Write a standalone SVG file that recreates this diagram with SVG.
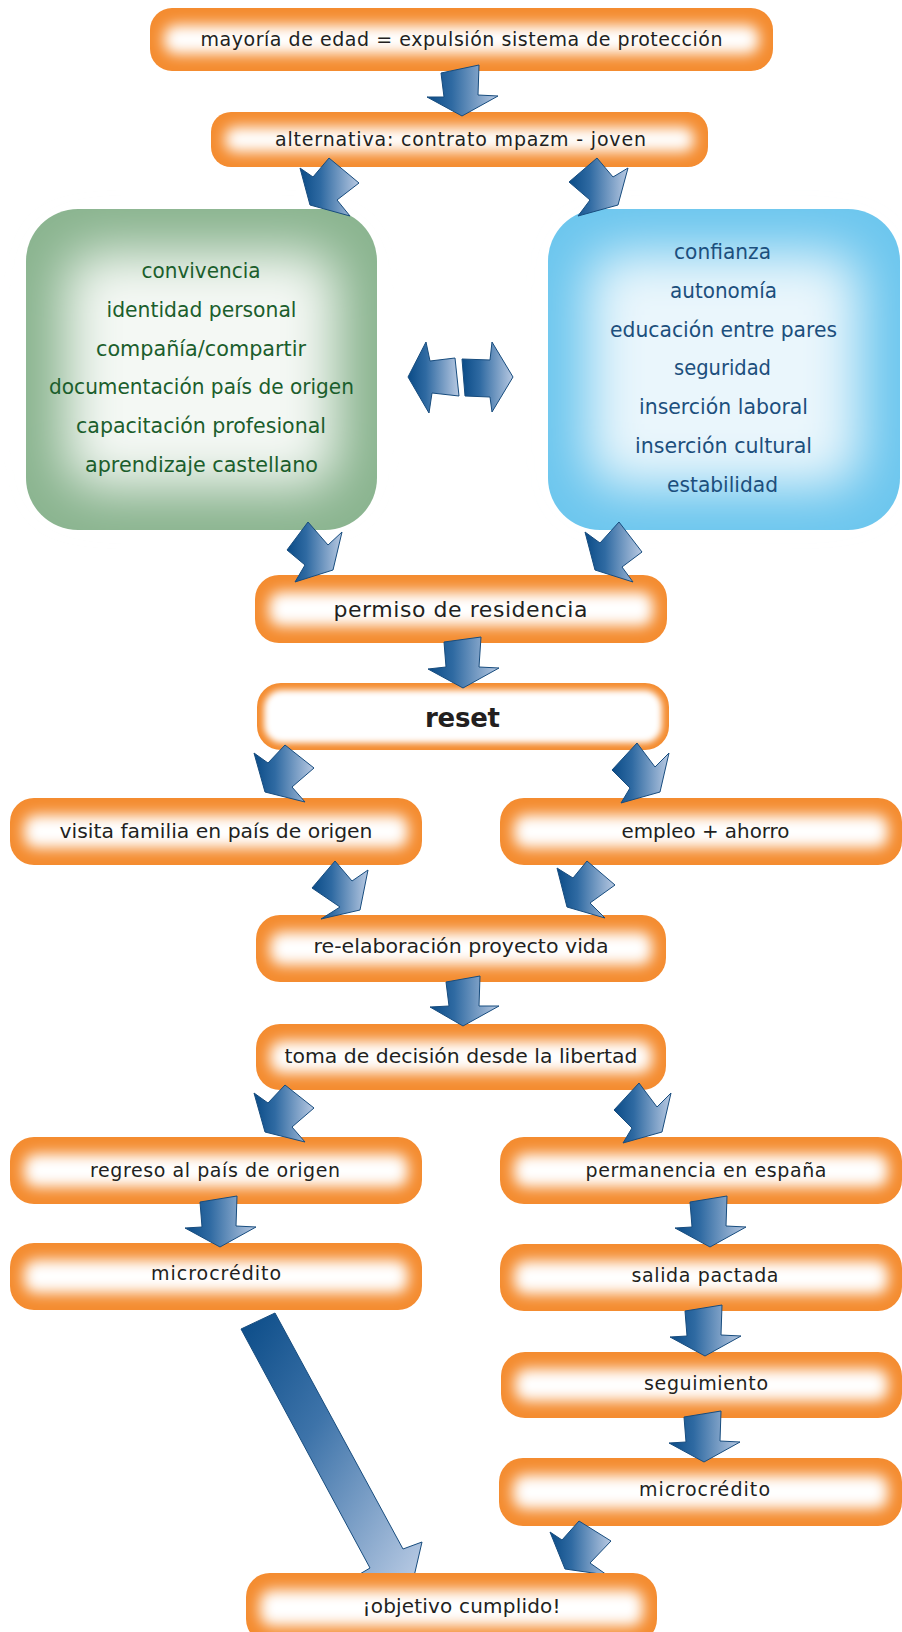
<svg xmlns="http://www.w3.org/2000/svg" width="902" height="1632" viewBox="0 0 902 1632">
<defs>
<style>
.box{fill:#f48c30}
.glow{fill:#ffffff;filter:url(#blur)}
.glowr{fill:#ffffff;filter:url(#blurr)}
.t{font-family:"DejaVu Sans","Liberation Sans",sans-serif;font-size:19px;fill:#231f20;text-anchor:middle}
.tc{font-family:"DejaVu Sans","Liberation Sans",sans-serif;font-size:21px;text-anchor:middle}
.g{fill:#1b5e2c}
.b{fill:#1c4f7d}
.arr{fill:url(#ag);stroke:#174c7e;stroke-width:1;stroke-linejoin:miter}
</style>
<linearGradient id="ag" x1="0" y1="0" x2="1" y2="0">
<stop offset="0" stop-color="#0a4b87"/>
<stop offset="0.35" stop-color="#2f6aa2"/>
<stop offset="1" stop-color="#b8c9e2"/>
</linearGradient>
<linearGradient id="ag2" x1="0" y1="0" x2="1" y2="1">
<stop offset="0" stop-color="#0a4b87"/>
<stop offset="0.4" stop-color="#3d73a9"/>
<stop offset="1" stop-color="#c2d1e8"/>
</linearGradient>
<filter id="blur" x="-20%" y="-100%" width="140%" height="300%"><feGaussianBlur stdDeviation="7"/></filter>
<filter id="blurr" x="-20%" y="-60%" width="140%" height="220%"><feGaussianBlur stdDeviation="3"/></filter>
<filter id="blurbig" x="-40%" y="-40%" width="180%" height="180%"><feGaussianBlur stdDeviation="26"/></filter>
</defs>
<rect x="0" y="0" width="902" height="1632" fill="#ffffff"/>

<g id="nodes">
<g id="n-mayoria">
<rect class="box" x="150" y="8" width="623" height="63" rx="22"/>
<rect class="glow" x="164" y="25" width="595" height="29" rx="12"/>
<text class="t" x="461.5" y="46" textLength="522">mayoría de edad = expulsión sistema de protección</text>
</g>
<g id="n-alternativa">
<rect class="box" x="211" y="112" width="497" height="55" rx="20"/>
<rect class="glow" x="225" y="127" width="469" height="25" rx="10"/>
<text class="t" x="460.5" y="146" textLength="371">alternativa: contrato mpazm - joven</text>
</g>
<g id="n-verde">
<rect x="26" y="209" width="351" height="321" rx="52" fill="#8ab48f"/>
<rect x="66" y="252" width="271" height="235" rx="30" fill="#f4f8f4" filter="url(#blurbig)"/>
<text class="tc g" x="201" y="278" textLength="119" lengthAdjust="spacingAndGlyphs">convivencia</text>
<text class="tc g" x="201.5" y="317" textLength="190" lengthAdjust="spacingAndGlyphs">identidad personal</text>
<text class="tc g" x="201" y="356" textLength="210" lengthAdjust="spacingAndGlyphs">compañía/compartir</text>
<text class="tc g" x="201.5" y="394" textLength="305" lengthAdjust="spacingAndGlyphs">documentación país de origen</text>
<text class="tc g" x="201" y="433" textLength="250" lengthAdjust="spacingAndGlyphs">capacitación profesional</text>
<text class="tc g" x="201.5" y="472" textLength="233" lengthAdjust="spacingAndGlyphs">aprendizaje castellano</text>
</g>
<g id="n-azul">
<rect x="548" y="209" width="352" height="321" rx="52" fill="#6cc6ee"/>
<rect x="588" y="252" width="272" height="235" rx="30" fill="#eaf6fc" filter="url(#blurbig)"/>
<text class="tc b" x="722.5" y="259" textLength="97" lengthAdjust="spacingAndGlyphs">confianza</text>
<text class="tc b" x="723.5" y="298" textLength="107" lengthAdjust="spacingAndGlyphs">autonomía</text>
<text class="tc b" x="723.5" y="337" textLength="227" lengthAdjust="spacingAndGlyphs">educación entre pares</text>
<text class="tc b" x="722.5" y="375" textLength="97" lengthAdjust="spacingAndGlyphs">seguridad</text>
<text class="tc b" x="723.5" y="414" textLength="169" lengthAdjust="spacingAndGlyphs">inserción laboral</text>
<text class="tc b" x="723.5" y="453" textLength="177" lengthAdjust="spacingAndGlyphs">inserción cultural</text>
<text class="tc b" x="722.5" y="492" textLength="111" lengthAdjust="spacingAndGlyphs">estabilidad</text>
</g>
<g id="n-permiso">
<rect class="box" x="255" y="575" width="412" height="68" rx="24"/>
<rect class="glow" x="269" y="592" width="384" height="34" rx="12"/>
<text class="t" x="460.5" y="617" style="font-size:22px" textLength="254">permiso de residencia</text>
</g>
<g id="n-reset">
<rect class="box" x="257" y="683" width="412" height="67" rx="24"/>
<rect class="glowr" x="264" y="690" width="398" height="53" rx="18"/>
<text class="t" x="462.5" y="727" style="font-size:26px;font-weight:bold" textLength="75">reset</text>
</g>
<g id="n-visita">
<rect class="box" x="10" y="798" width="412" height="67" rx="24"/>
<rect class="glow" x="24" y="815" width="384" height="33" rx="12"/>
<text class="t" x="216" y="838" style="font-size:20px" textLength="313" lengthAdjust="spacingAndGlyphs">visita familia en país de origen</text>
</g>
<g id="n-empleo">
<rect class="box" x="500" y="798" width="402" height="67" rx="24"/>
<rect class="glow" x="514" y="815" width="374" height="33" rx="12"/>
<text class="t" x="705.5" y="838" style="font-size:20px" textLength="168" lengthAdjust="spacingAndGlyphs">empleo + ahorro</text>
</g>
<g id="n-reelaboracion">
<rect class="box" x="256" y="915" width="410" height="67" rx="24"/>
<rect class="glow" x="270" y="932" width="382" height="33" rx="12"/>
<text class="t" x="461" y="953" style="font-size:20px" textLength="295" lengthAdjust="spacingAndGlyphs">re-elaboración proyecto vida</text>
</g>
<g id="n-toma">
<rect class="box" x="256" y="1024" width="410" height="66" rx="24"/>
<rect class="glow" x="270" y="1041" width="382" height="32" rx="12"/>
<text class="t" x="461" y="1063" style="font-size:20px" textLength="353" lengthAdjust="spacingAndGlyphs">toma de decisión desde la libertad</text>
</g>
<g id="n-regreso">
<rect class="box" x="10" y="1137" width="412" height="67" rx="24"/>
<rect class="glow" x="24" y="1154" width="384" height="33" rx="12"/>
<text class="t" x="215" y="1177" textLength="250">regreso al país de origen</text>
</g>
<g id="n-permanencia">
<rect class="box" x="500" y="1137" width="402" height="67" rx="24"/>
<rect class="glow" x="514" y="1154" width="374" height="33" rx="12"/>
<text class="t" x="706" y="1177" textLength="241">permanencia en españa</text>
</g>
<g id="n-microcredito-1">
<rect class="box" x="10" y="1243" width="412" height="67" rx="24"/>
<rect class="glow" x="24" y="1260" width="384" height="33" rx="12"/>
<text class="t" x="216" y="1280" textLength="130">microcrédito</text>
</g>
<g id="n-salida">
<rect class="box" x="500" y="1244" width="402" height="67" rx="24"/>
<rect class="glow" x="514" y="1261" width="374" height="33" rx="12"/>
<text class="t" x="705" y="1282" textLength="147">salida pactada</text>
</g>
<g id="n-seguimiento">
<rect class="box" x="501" y="1352" width="401" height="66" rx="24"/>
<rect class="glow" x="515" y="1369" width="373" height="32" rx="12"/>
<text class="t" x="706" y="1390" textLength="124">seguimiento</text>
</g>
<g id="n-microcredito-2">
<rect class="box" x="499" y="1458" width="403" height="68" rx="24"/>
<rect class="glow" x="513" y="1475" width="375" height="34" rx="12"/>
<text class="t" x="704.5" y="1496" textLength="131">microcrédito</text>
</g>
</g>

<g id="connectors">
<polygon class="arr" points="441,73 479,65 478,95 498,96 462,116 427,97 444,97"/>
<polygon class="arr" points="300,168 313,177 329,158 359,183 337,200 350,216 310,205"/>
<polygon class="arr" points="569,182 597,158 613,177 628,168 618,205 578,216 590,200"/>
<polygon class="arr" points="408,377 426,342 430,361 455,358 459,396 432,393 429,413"/>
<polygon class="arr" points="462,359 490,360 492,342 513,377 492,412 490,397 465,396"/>
<polygon class="arr" points="287,550 308,522 328,545 342,532 333,570 295,582 305,565"/>
<polygon class="arr" points="585,532 600,543 619,522 642,552 622,567 633,582 595,570"/>
<polygon class="arr" points="444,642 481,637 479,667 499,668 463,688 428,669 446,667"/>
<polygon class="arr" points="254,753 268,763 285,745 314,768 292,787 305,802 265,792"/>
<polygon class="arr" points="612,770 637,743 655,767 669,753 660,792 621,803 630,788"/>
<polygon class="arr" points="335,861 312,888 340,907 321,919 360,910 368,870 352,881"/>
<polygon class="arr" points="587,861 615,885 590,903 605,918 567,907 557,868 573,878"/>
<polygon class="arr" points="446,982 480,976 479,1006 499,1006 463,1026 430,1007 449,1006"/>
<polygon class="arr" points="254,1093 268,1103 285,1085 314,1108 292,1127 305,1142 265,1132"/>
<polygon class="arr" points="614,1110 639,1083 657,1107 671,1093 662,1132 623,1143 632,1128"/>
<polygon class="arr" points="200,1202 237,1196 236,1226 256,1227 220,1247 185,1228 202,1227"/>
<polygon class="arr" points="690,1202 727,1196 726,1226 746,1227 710,1247 675,1228 692,1227"/>
<polygon class="arr" points="685,1311 722,1305 721,1335 741,1336 705,1356 670,1337 687,1336"/>
<polygon class="arr" points="684,1417 721,1411 720,1441 740,1442 704,1462 669,1443 686,1442"/>
<polygon class="arr" points="550,1532 562,1540 579,1521 611,1541 590,1563 607,1575 565,1569"/>
<polygon class="arr" style="fill:url(#ag2)" points="241,1329 275,1313 403,1549 422,1542 409,1598 353,1578 370,1568"/>
</g>

<g id="n-objetivo">
<rect class="box" x="246" y="1573" width="411" height="70" rx="24"/>
<rect class="glow" x="260" y="1590" width="383" height="36" rx="12"/>
<text class="t" x="461.5" y="1613" style="font-size:20px" textLength="198">¡objetivo cumplido!</text>
</g>
</svg>
